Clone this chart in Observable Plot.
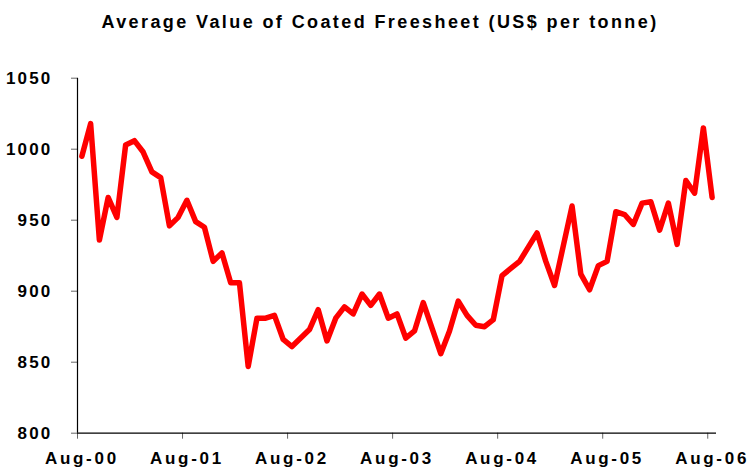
<!DOCTYPE html>
<html>
<head>
<meta charset="utf-8">
<script src="https://cdn.jsdelivr.net/npm/d3@7"></script>
<script src="https://cdn.jsdelivr.net/npm/@observablehq/plot@0.6"></script>
<style>
  html, body { margin: 0; padding: 0; background: #fff; }
  #wrap { width: 752px; height: 474px; position: relative; overflow: hidden; }
  #title { height: 40px; width: 752px; text-align: center; font-family: "Liberation Sans", Arial, sans-serif; font-weight: bold; font-size: 18px; letter-spacing: 2.4px; line-height: 44px; color: #000; padding-left: 8px; box-sizing: border-box; }
  svg text { font-family: "Liberation Sans", Arial, sans-serif; }
  #chart g[aria-label="y-axis tick label"] { letter-spacing: 2.2px; }
  #chart g[aria-label="x-axis tick label"] { letter-spacing: 2.7px; }
</style>
</head>
<body>
<div id="wrap">
  <div id="title">Average Value of Coated Freesheet (US$ per tonne)</div>
  <div id="chart"></div>
</div>
<script>
// Monthly average value, Aug-2000 .. Aug-2006 (US$ per tonne)
const values = [
  995, 1018, 936, 966, 952, 1003, 1006, 998, 984, 980, 946, 952,
  964, 949, 945, 921, 927, 906, 906, 847, 881, 881, 883, 866,
  861, 867, 873, 887, 865, 881, 889, 884, 898, 890, 898, 881,
  884, 867, 872, 892, 874, 856, 872, 893, 883, 876, 875, 880,
  911, 916, 921, 931, 941, 921, 904, 932, 960, 912, 901, 918,
  921, 956, 954, 947, 962, 963, 943, 962, 933, 978, 969, 1015,
  966
];
const tickLabels = ["Aug-00", "Aug-01", "Aug-02", "Aug-03", "Aug-04", "Aug-05", "Aug-06"];
const yTicks = [800, 850, 900, 950, 1000, 1050];

const data = values.map((v, i) => ({i, v}));
const labelPos = tickLabels.map((_, k) => k * 12);
const boundaries = tickLabels.map((_, k) => k * 12 - 0.5);

const chart = Plot.plot({
  width: 752,
  height: 434,
  marginLeft: 77,
  marginRight: 36,
  marginTop: 37.7,
  marginBottom: 41.3,
  x: {domain: [-0.5, 72.5]},
  y: {domain: [800, 1050]},
  style: {fontFamily: "'Liberation Sans', Arial, sans-serif", background: "#fff", overflow: "visible"},
  marks: [
    Plot.axisY({ticks: yTicks, tickSize: 6, tickPadding: 19, stroke: "#666", fill: "#000",
      fontSize: 17, fontWeight: "bold", tickFormat: d => String(d), label: null}),
    Plot.axisX({ticks: boundaries, tickSize: 6, tickFormat: () => "", stroke: "#666", label: null}),
    Plot.axisX({ticks: labelPos, tickSize: 0, tickPadding: 19, fill: "#000",
      fontSize: 17, fontWeight: "bold", tickFormat: d => tickLabels[d / 12], label: null}),
    Plot.ruleX([-0.5], {stroke: "#000", strokeWidth: 1.2}),
    Plot.ruleY([800], {stroke: "#000", strokeWidth: 1.2}),
    Plot.line(data, {x: "i", y: "v", stroke: "#ff0000", strokeWidth: 5.5, strokeLinejoin: "round", strokeLinecap: "round"})
  ]
});
document.getElementById("chart").appendChild(chart);
</script>
</body>
</html>
